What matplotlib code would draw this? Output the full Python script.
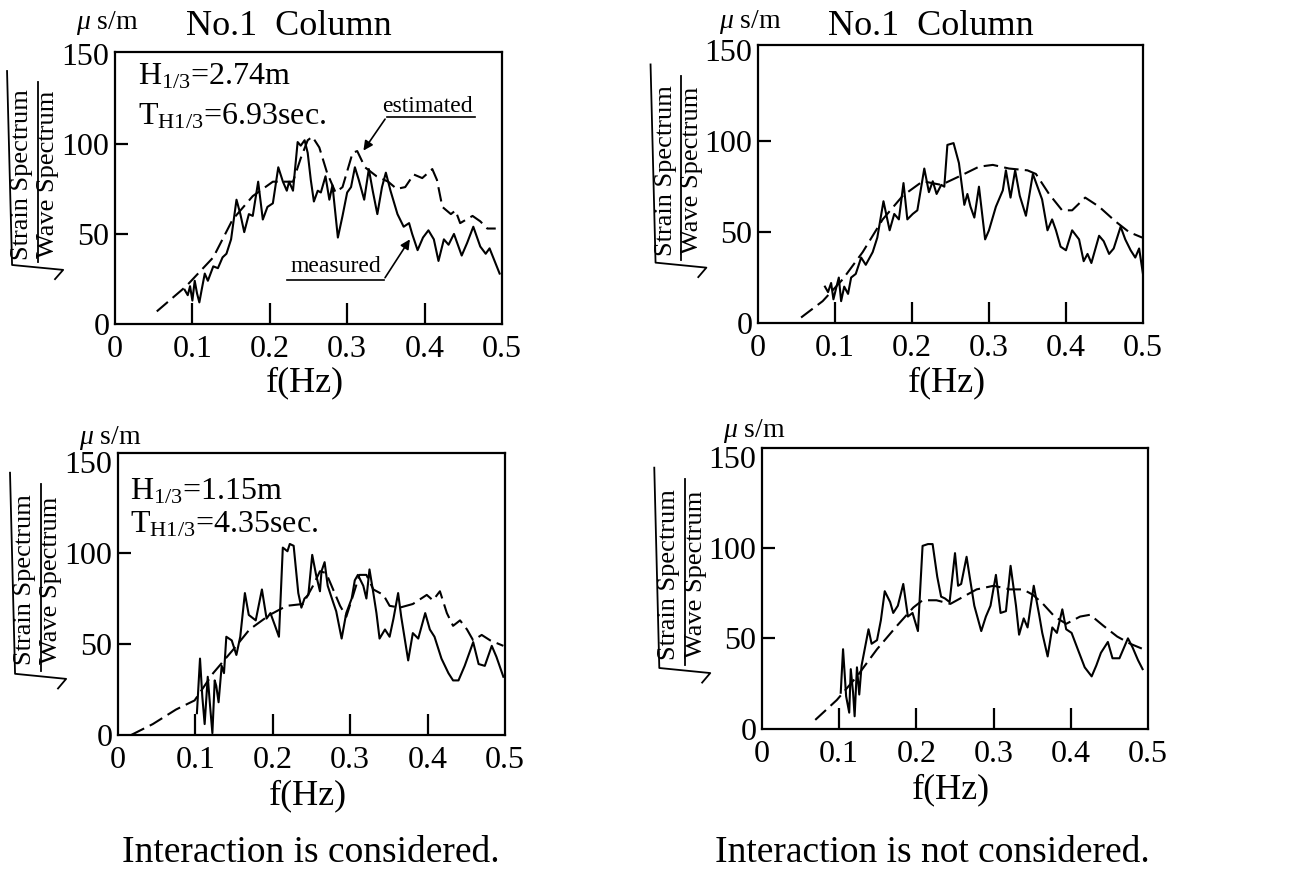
import matplotlib.pyplot as plt

plt.rcParams['font.family'] = 'Liberation Serif'
plt.rcParams['mathtext.fontset'] = 'custom'
plt.rcParams['mathtext.rm'] = 'Liberation Serif'
plt.rcParams['mathtext.it'] = 'Liberation Serif:italic'

xticks = [0, 0.1, 0.2, 0.3, 0.4, 0.5]
xticklabels = ['0', '0.1', '0.2', '0.3', '0.4', '0.5']
yticks = [0, 50, 100, 150]
yticklabels = ['0', '50', '100', '150']

# --- interaction considered, H1/3 = 2.74 m ---
f_meas_a = [0.090, 0.094, 0.097, 0.100, 0.103, 0.106, 0.109, 0.112, 0.116, 0.120,
            0.127, 0.133, 0.139, 0.144, 0.150, 0.157, 0.162, 0.167, 0.173, 0.178,
            0.185, 0.191, 0.197, 0.204, 0.211, 0.217, 0.222, 0.225, 0.230, 0.236,
            0.240, 0.245, 0.249, 0.253, 0.257, 0.262, 0.266, 0.272, 0.277, 0.281,
            0.288, 0.294, 0.300, 0.305, 0.310, 0.315, 0.322, 0.328, 0.333, 0.339,
            0.345, 0.350, 0.356, 0.365, 0.373, 0.380, 0.384, 0.391, 0.398, 0.405,
            0.412, 0.418, 0.425, 0.431, 0.438, 0.448, 0.455, 0.463, 0.472, 0.479,
            0.484, 0.497]
v_meas_a = [19, 16, 21, 13, 24, 17, 12, 19, 28, 24,
            32, 31, 37, 39, 47, 69, 61, 51, 61, 60,
            79, 58, 65, 67, 87, 79, 74, 79, 74, 101,
            99, 102, 95, 80, 68, 74, 73, 82, 69, 77,
            48, 60, 73, 76, 87, 80, 69, 86, 74, 61,
            76, 84, 74, 61, 54, 56, 50, 41, 48, 52,
            47, 35, 47, 44, 50, 38, 45, 54, 43, 39,
            42, 28]
f_est_a = [0.054, 0.092, 0.127, 0.152, 0.178, 0.204, 0.230, 0.240, 0.249, 0.255,
           0.264, 0.274, 0.285, 0.294, 0.307, 0.313, 0.323, 0.338, 0.353, 0.364,
           0.375, 0.386, 0.397, 0.410, 0.416, 0.423, 0.434, 0.440, 0.446, 0.462,
           0.472, 0.481, 0.492]
v_est_a = [7, 21, 37, 58, 71, 79, 79, 92, 102, 104,
           98, 84, 73, 76, 95, 96, 87, 82, 79, 75,
           76, 83, 81, 86, 80, 65, 61, 63, 56, 60,
           57, 53, 53]

# --- interaction not considered, H1/3 = 2.74 m ---
f_meas_b = [0.087, 0.091, 0.095, 0.098, 0.102, 0.105, 0.108, 0.112, 0.117, 0.121,
            0.127, 0.134, 0.140, 0.149, 0.155, 0.163, 0.171, 0.177, 0.183, 0.189,
            0.194, 0.201, 0.207, 0.216, 0.222, 0.227, 0.232, 0.238, 0.242, 0.246,
            0.254, 0.261, 0.268, 0.272, 0.276, 0.281, 0.287, 0.295, 0.300, 0.309,
            0.318, 0.322, 0.328, 0.334, 0.340, 0.348, 0.357, 0.363, 0.369, 0.376,
            0.382, 0.387, 0.393, 0.400, 0.408, 0.417, 0.423, 0.428, 0.433, 0.443,
            0.449, 0.456, 0.462, 0.471, 0.477, 0.484, 0.490, 0.495, 0.500]
v_meas_b = [20, 17, 22, 13, 20, 25, 12, 20, 16, 25,
            27, 36, 32, 39, 47, 67, 51, 60, 57, 77,
            57, 60, 62, 85, 72, 78, 71, 76, 75, 98,
            99, 88, 65, 71, 64, 58, 75, 46, 51, 64,
            73, 84, 69, 84, 70, 59, 82, 75, 68, 51,
            57, 51, 42, 40, 51, 46, 34, 38, 33, 48,
            45, 38, 41, 53, 46, 40, 36, 41, 27]
f_est_b = [0.056, 0.084, 0.110, 0.136, 0.162, 0.188, 0.214, 0.238, 0.263, 0.287,
           0.305, 0.326, 0.350, 0.361, 0.378, 0.395, 0.408, 0.425, 0.443, 0.464,
           0.482, 0.499]
v_est_b = [3, 12, 24, 39, 57, 70, 78, 76, 81, 86,
           87, 85, 84, 82, 71, 62, 62, 69, 64, 56,
           50, 47]

# --- interaction considered, H1/3 = 1.15 m ---
f_meas_c = [0.102, 0.106, 0.109, 0.112, 0.116, 0.119, 0.122, 0.125, 0.127, 0.130,
            0.134, 0.137, 0.140, 0.147, 0.153, 0.158, 0.164, 0.169, 0.178, 0.186,
            0.192, 0.197, 0.203, 0.208, 0.213, 0.219, 0.222, 0.227, 0.233, 0.237,
            0.241, 0.246, 0.251, 0.256, 0.261, 0.263, 0.267, 0.271, 0.278, 0.282,
            0.289, 0.295, 0.302, 0.306, 0.310, 0.317, 0.321, 0.325, 0.330, 0.334,
            0.338, 0.345, 0.351, 0.356, 0.362, 0.366, 0.375, 0.381, 0.388, 0.397,
            0.403, 0.409, 0.418, 0.427, 0.433, 0.440, 0.448, 0.459, 0.466, 0.474,
            0.483, 0.489, 0.498]
v_meas_c = [12, 42, 21, 6, 32, 16, 1, 30, 27, 18,
            38, 34, 54, 52, 44, 54, 78, 66, 63, 80,
            64, 67, 60, 54, 103, 101, 105, 104, 78, 70,
            75, 77, 99, 88, 79, 90, 95, 82, 73, 68,
            53, 67, 75, 85, 88, 82, 75, 91, 78, 67,
            53, 58, 54, 64, 78, 65, 41, 56, 53, 67,
            58, 54, 42, 34, 30, 30, 38, 51, 39, 38,
            49, 43, 32]
f_est_c = [0.017, 0.045, 0.075, 0.099, 0.123, 0.149, 0.170, 0.196, 0.218, 0.239,
           0.252, 0.261, 0.269, 0.278, 0.287, 0.295, 0.304, 0.312, 0.321, 0.330,
           0.343, 0.351, 0.364, 0.381, 0.399, 0.407, 0.416, 0.425, 0.433, 0.442,
           0.451, 0.459, 0.470, 0.481, 0.498]
v_est_c = [0, 6, 14, 19, 34, 47, 58, 66, 71, 72,
           82, 90, 89, 80, 71, 65, 77, 88, 88, 80,
           77, 71, 70, 72, 77, 74, 79, 67, 60, 63,
           58, 52, 55, 52, 49]

# --- interaction not considered, H1/3 = 1.15 m ---
f_meas_d = [0.102, 0.105, 0.109, 0.113, 0.115, 0.118, 0.120, 0.123, 0.126, 0.129,
            0.138, 0.142, 0.149, 0.154, 0.159, 0.166, 0.170, 0.176, 0.183, 0.189,
            0.195, 0.202, 0.208, 0.215, 0.221, 0.227, 0.232, 0.237, 0.243, 0.250,
            0.254, 0.258, 0.265, 0.269, 0.275, 0.284, 0.290, 0.296, 0.303, 0.309,
            0.316, 0.322, 0.329, 0.333, 0.339, 0.344, 0.352, 0.359, 0.363, 0.370,
            0.376, 0.382, 0.389, 0.394, 0.401, 0.409, 0.418, 0.427, 0.433, 0.439,
            0.448, 0.454, 0.463, 0.474, 0.480, 0.487, 0.493]
v_meas_d = [20, 44, 18, 9, 33, 20, 7, 34, 19, 35,
            55, 47, 49, 60, 76, 70, 64, 68, 80, 62,
            64, 54, 101, 102, 102, 84, 73, 72, 70, 97,
            79, 80, 95, 84, 68, 54, 62, 68, 85, 64,
            65, 90, 68, 52, 61, 56, 79, 63, 53, 40,
            56, 53, 66, 55, 53, 44, 34, 29, 35, 42,
            48, 39, 39, 50, 45, 38, 33]
f_est_d = [0.069, 0.097, 0.123, 0.149, 0.175, 0.196, 0.208, 0.226, 0.244, 0.261,
           0.278, 0.300, 0.321, 0.338, 0.351, 0.364, 0.379, 0.394, 0.412, 0.425,
           0.442, 0.460, 0.477, 0.494]
v_est_d = [5, 16, 29, 44, 57, 67, 71, 71, 69, 73,
           77, 79, 77, 77, 74, 69, 62, 58, 62, 63,
           57, 51, 47, 44]

fig = plt.figure(figsize=(12.95, 8.75), dpi=100)


def panel(rect, ytop, f_meas, v_meas, f_est, v_est):
    ax = fig.add_axes(rect)
    ax.plot(f_est, v_est, color='k', lw=1.5, dashes=(7, 3))
    ax.plot(f_meas, v_meas, color='k', lw=1.5)
    ax.set_xlim(0, 0.5)
    ax.set_ylim(0, ytop)
    ax.set_xticks(xticks)
    ax.set_xticklabels(xticklabels)
    ax.set_yticks(yticks)
    ax.set_yticklabels(yticklabels)
    # short inward marks only at the inner ticks
    ax.xaxis.remove_overlapping_locs = False
    ax.yaxis.remove_overlapping_locs = False
    ax.set_xticks(xticks[1:-1], minor=True)
    ax.set_yticks(yticks[1:-1], minor=True)
    ax.tick_params(which='major', length=0, labelsize=23)
    ax.tick_params(axis='x', which='major', pad=8)
    ax.tick_params(axis='y', which='major', pad=4)
    ax.tick_params(which='minor', direction='in', width=1.6)
    ax.tick_params(axis='x', which='minor', length=15)
    ax.tick_params(axis='y', which='minor', length=9.5)
    for s in ax.spines.values():
        s.set_linewidth(1.6)

    # sqrt(strain / wave) label, written sideways
    kw = dict(transform=ax.transAxes, clip_on=False, color='k', lw=1.3)
    ax.plot([-0.279, -0.266, -0.134, -0.155], [0.93, 0.217, 0.199, 0.165], **kw)
    ax.plot([-0.200, -0.200], [0.89, 0.228], **kw)
    ax.text(-0.24, 0.55, 'Strain Spectrum', rotation=90, fontsize=19,
            ha='center', va='center', transform=ax.transAxes)
    ax.text(-0.172, 0.55, 'Wave Spectrum', rotation=90, fontsize=19,
            ha='center', va='center', transform=ax.transAxes)
    ax.text(0.49, -0.215, 'f(Hz)', fontsize=26, ha='center', va='center',
            transform=ax.transAxes)
    return ax


ax1 = panel([0.0888, 0.6297, 0.2988, 0.3109], 151, f_meas_a, v_meas_a, f_est_a, v_est_a)
ax2 = panel([0.5853, 0.6309, 0.2973, 0.3177], 153, f_meas_b, v_meas_b, f_est_b, v_est_b)
ax3 = panel([0.0911, 0.1600, 0.2988, 0.3223], 155, f_meas_c, v_meas_c, f_est_c, v_est_c)
ax4 = panel([0.5884, 0.1669, 0.2981, 0.3211], 155, f_meas_d, v_meas_d, f_est_d, v_est_d)

for ax, ty in [(ax1, 1.092), (ax2, 1.068)]:
    ax.text(0.45, ty, 'No.1  Column', fontsize=26, ha='center', va='center',
            transform=ax.transAxes)
for ax, uy in [(ax1, 1.107), (ax2, 1.083), (ax3, 1.052), (ax4, 1.062)]:
    ax.text(-0.02, uy, r'$\mu$ s/m', fontsize=20, ha='center', va='center',
            transform=ax.transAxes)

# wave conditions
ax1.text(0.06, 0.908, r'H$_\mathrm{1/3}$=2.74m', fontsize=23, va='center',
         transform=ax1.transAxes)
ax1.text(0.06, 0.761, r'T$_\mathrm{H1/3}$=6.93sec.', fontsize=23, va='center',
         transform=ax1.transAxes)
ax3.text(0.031, 0.862, r'H$_\mathrm{1/3}$=1.15m', fontsize=23, va='center',
         transform=ax3.transAxes)
ax3.text(0.031, 0.745, r'T$_\mathrm{H1/3}$=4.35sec.', fontsize=23, va='center',
         transform=ax3.transAxes)

# curve labels with leader arrows
ax1.text(0.404, 121, 'estimated', fontsize=17, ha='center', va='center')
ax1.plot([0.351, 0.465], [115, 115], color='k', lw=1.2, clip_on=False)
ax1.annotate('', xy=(0.319, 95), xytext=(0.351, 115),
             arrowprops=dict(arrowstyle='-|>', color='k', lw=1.2, mutation_scale=14))
ax1.text(0.2855, 31.7, 'measured', fontsize=17, ha='center', va='center')
ax1.plot([0.222, 0.347], [24.4, 24.4], color='k', lw=1.2)
ax1.annotate('', xy=(0.383, 48.3), xytext=(0.347, 24.4),
             arrowprops=dict(arrowstyle='-|>', color='k', lw=1.2, mutation_scale=14))

fig.text(0.240, 0.025, 'Interaction is considered.', fontsize=27,
         ha='center', va='center')
fig.text(0.720, 0.025, 'Interaction is not considered.', fontsize=27,
         ha='center', va='center')

fig.savefig('out.png', dpi=100)
